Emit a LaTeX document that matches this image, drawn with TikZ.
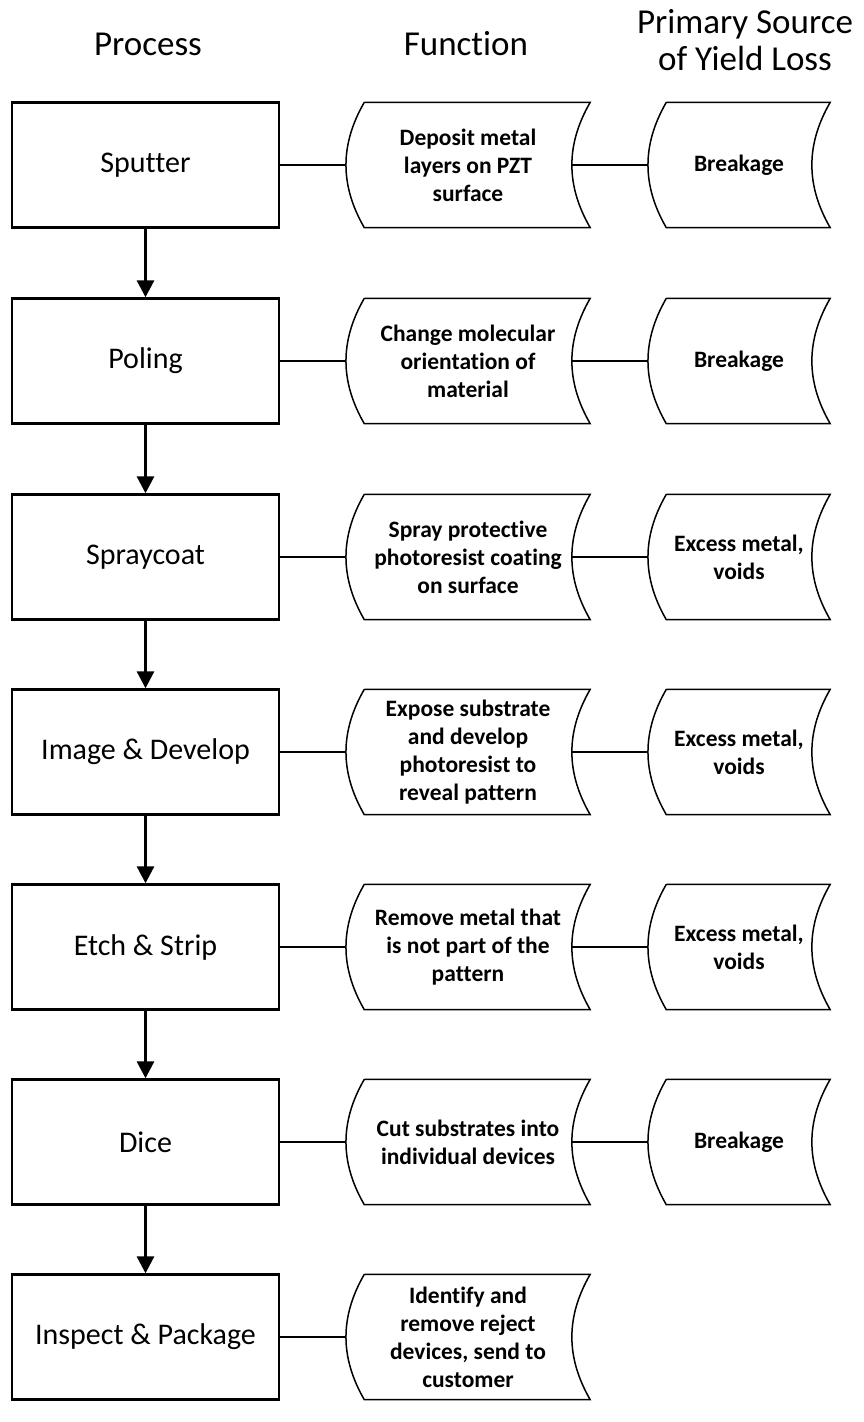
\documentclass[tikz,border=0pt]{standalone}
\usepackage{fontspec}
\setmainfont{Carlito}[Ligatures=NoCommon]
\usetikzlibrary{arrows.meta,positioning}

\tikzset{
    procbox/.style={draw, line width=2.4pt, minimum width=267pt, minimum height=125pt, font=\fontsize{30}{36}\selectfont},
    funcbox/.style={minimum width=244pt, minimum height=125pt, align=center, font=\bfseries\fontsize{23.5}{28}\selectfont},
    lossbox/.style={minimum width=182pt, minimum height=125pt, align=center, font=\bfseries\fontsize{23.5}{28}\selectfont},
    headtxt/.style={align=center, font=\fontsize{35}{37}\selectfont},
    link/.style={line width=1.8pt},
    flow/.style={line width=3pt, -{Triangle[length=17pt,width=17pt]}},
    tape/.style={line width=1.5pt}
}

% curved data box drawn around a node (west anchor = bulge)
\newcommand{\tapebox}[1]{%
    \draw[tape] ([xshift=18.5pt]#1.north west) -- (#1.north east) to[bend right=30] (#1.south east)
        -- ([xshift=18.5pt]#1.south west) to[bend left=30] ([xshift=18.5pt]#1.north west);}

\begin{document}
\begin{tikzpicture}[x=1pt, y=1pt]
    \useasboundingbox (0,0) rectangle (863,-1422);

    % Headings
    \node[headtxt] (hproc) at (148,-44) {Process};
    \node[headtxt] (hfunc) at (466,-44) {Function};
    \node[headtxt] (hloss) at (745,-40) {Primary Source\\of Yield Loss};

    % Process steps
    \node[procbox] (p1) at (145.5,-165)  {Sputter};
    \node[procbox] (p2) at (145.5,-361)  {Poling};
    \node[procbox] (p3) at (145.5,-557)  {Spraycoat};
    \node[procbox] (p4) at (145.5,-752)  {Image \& Develop};
    \node[procbox] (p5) at (145.5,-947)  {Etch \& Strip};
    \node[procbox] (p6) at (145.5,-1142) {Dice};
    \node[procbox] (p7) at (145.5,-1337) {Inspect \& Package};

    % Functions
    \node[funcbox] (f1) at (468,-165)  {Deposit metal\\layers on PZT\\surface};
    \node[funcbox] (f2) at (468,-361)  {Change molecular\\orientation of\\material};
    \node[funcbox] (f3) at (468,-557)  {Spray protective\\photoresist coating\\on surface};
    \node[funcbox] (f4) at (468,-752)  {Expose substrate\\and develop\\photoresist to\\reveal pattern};
    \node[funcbox] (f5) at (468,-947)  {Remove metal that\\is not part of the\\pattern};
    \node[funcbox] (f6) at (468,-1142) {Cut substrates into\\individual devices};
    \node[funcbox] (f7) at (468,-1337) {Identify and\\remove reject\\devices, send to\\customer};

    % Yield loss
    \node[lossbox] (l1) at (739,-165)  {Breakage};
    \node[lossbox] (l2) at (739,-361)  {Breakage};
    \node[lossbox] (l3) at (739,-557)  {Excess metal,\\voids};
    \node[lossbox] (l4) at (739,-752)  {Excess metal,\\voids};
    \node[lossbox] (l5) at (739,-947)  {Excess metal,\\voids};
    \node[lossbox] (l6) at (739,-1142) {Breakage};

    \foreach \n in {f1,f2,f3,f4,f5,f6,f7,l1,l2,l3,l4,l5,l6} \tapebox{\n};

    % Links
    \foreach \i in {1,...,7}
        \draw[link] (p\i.east) -- (f\i.west);
    \foreach \i in {1,...,6}
        \draw[link] ([xshift=-18.5pt]f\i.east) -- (l\i.west);

    % Flow arrows
    \foreach \a/\b in {p1/p2,p2/p3,p3/p4,p4/p5,p5/p6,p6/p7}
        \draw[flow] (\a.south) -- (\b.north);
\end{tikzpicture}
\end{document}
